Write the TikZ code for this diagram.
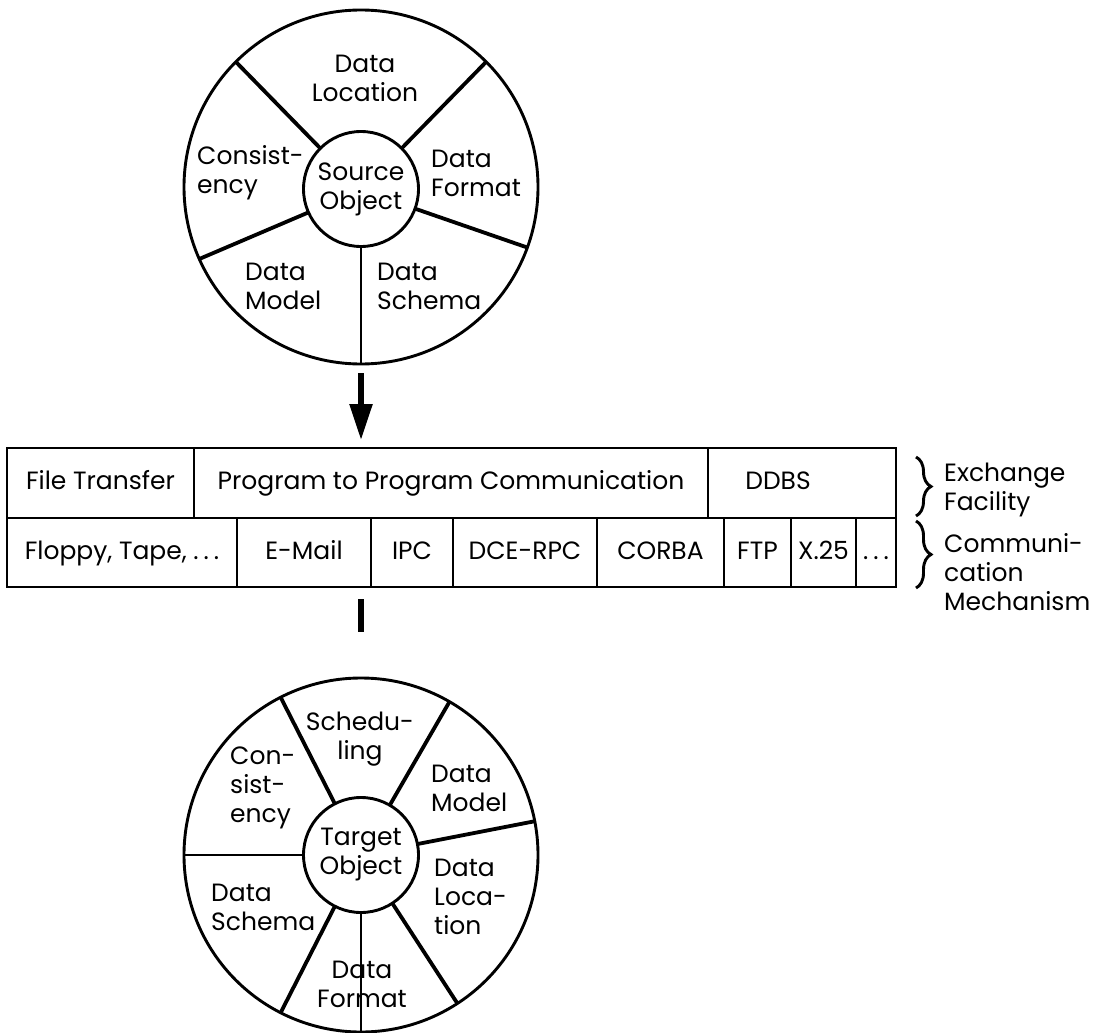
\documentclass[tikz,border=0pt]{standalone}
\usepackage{fontspec}
\setmainfont{Poppins}
\usepackage{tikz}
\usetikzlibrary
  {
    arrows.meta,               % arrow heads
    decorations.pathreplacing, % braces
    positioning,               % place nodes relative to other nodes
  }

\newcommand{\spdots}{.\hspace{5pt}.\hspace{5pt}.}

\begin{document}
\begin{tikzpicture}
    [
      x=1pt, y=-1pt,
      every node/.style={font=\fontsize{25}{29}\selectfont},
      ring/.style=
        {
          circle,
          draw,
          line width=2.9pt,
          minimum size=354pt,
          inner sep=0pt,
          outer sep=0pt,
        },
      core/.style=
        {
          circle,
          draw,
          line width=2.9pt,
          minimum size=115pt,
          inner sep=0pt,
          outer sep=0pt,
          align=center,
        },
      spoke/.style={line width=3.8pt},
      thin spoke/.style={line width=2.6pt},
      cell/.style=
        {
          rectangle,
          draw,
          line width=2.9pt,
          anchor=north west,
          inner sep=0pt,
          outer sep=0pt,
          text height=18pt,
          text depth=5pt,
        },
      topcell/.style={cell, minimum height=70pt},
      lowcell/.style={cell, minimum height=69pt},
      sector/.style={align=left, inner sep=0pt},
      note/.style={align=left, anchor=west, inner sep=0pt},
      brace/.style=
        {
          decorate,
          decoration={brace, amplitude=15pt},
          line width=2.9pt,
        },
      shaft/.style={line width=5.5pt},
    ]
    \useasboundingbox (0,0) rectangle (1095,1033);

    % source object
    \node[ring] (srcring) at (361,187) {};
    \node[core] (srccore) at (361,189) {Source\\Object};
    \foreach \a in {45,135,204,-20}
      \draw[spoke] (srccore.\a) -- (srcring.\a);
    \draw[thin spoke] (srccore.-90) -- (srcring.-90);

    \node[sector, align=center] (srcloc)    at (365,78)  {Data\\Location};
    \node[sector, anchor=west]  (srccons)   at (197,173) {Consist-\\ency};
    \node[sector, anchor=west]  (srcfmt)    at (431,173) {Data\\Format};
    \node[sector, anchor=west]  (srcmodel)  at (245,286) {Data\\Model};
    \node[sector, anchor=west]  (srcschema) at (377,286) {Data\\Schema};

    % exchange facility
    \node[topcell, minimum width=187pt] (ftrans) at (7,448)   {File Transfer};
    \node[topcell, minimum width=514pt] (ptp)    at (194,448) {Program to Program Communication};
    \node[topcell, minimum width=188pt] (ddbs)   at (708,448) {DDBS\hspace*{48pt}};

    % communication mechanism
    \node[lowcell, minimum width=230pt] (floppy)   at (7,518)   {Floppy, Tape, \spdots};
    \node[lowcell, minimum width=134pt] (email)    at (237,518) {E-Mail};
    \node[lowcell, minimum width=82pt]  (ipc)      at (371,518) {IPC};
    \node[lowcell, minimum width=144pt] (dcerpc)   at (453,518) {DCE-RPC};
    \node[lowcell, minimum width=127pt] (corba)    at (597,518) {CORBA};
    \node[lowcell, minimum width=67pt]  (ftp)      at (724,518) {FTP};
    \node[lowcell, minimum width=65pt]  (xtwofive) at (791,518) {X.25};
    \node[lowcell, minimum width=40pt]  (more)     at (856,518) {\spdots};

    \draw[brace] (916,457) -- (916,516);
    \draw[brace] (916,521) -- (916,588);
    \node[note] (exch) at (944,490) {Exchange\\Facility};
    \node[note] (mech) at (944,572) {Communi-\\cation\\Mechanism};

    % target object
    \node[ring] (tgtring) at (361,855) {};
    \node[core] (tgtcore) at (361,855) {Target\\Object};
    \foreach \a in {117,60,11,-57,-117}
      \draw[spoke] (tgtcore.\a) -- (tgtring.\a);
    \foreach \a in {-90,180}
      \draw[thin spoke] (tgtcore.\a) -- (tgtring.\a);

    \node[sector, align=center] (tgtsched)  at (360,739) {Schedu-\\ling};
    \node[sector, anchor=west]  (tgtcons)   at (230,788) {Con-\\sist-\\ency};
    \node[sector, anchor=west]  (tgtmodel)  at (431,788) {Data\\Model};
    \node[sector, anchor=west]  (tgtloc)    at (434,897) {Data\\Loca-\\tion};
    \node[sector, anchor=west]  (tgtschema) at (211,907) {Data\\Schema};
    \node[sector, align=center] (tgtfmt)    at (362,984) {Data\\Format};

    \draw[shaft, -{Triangle[length=36pt, width=22pt]}, shorten <=9pt, shorten >=8pt]
      (srcring.south) -- (srcring.south |- ptp.north);
    \draw[shaft, shorten <=12pt, shorten >=46pt]
      (email.south -| tgtring.north) -- (tgtring.north);
  \end{tikzpicture}
\end{document}
